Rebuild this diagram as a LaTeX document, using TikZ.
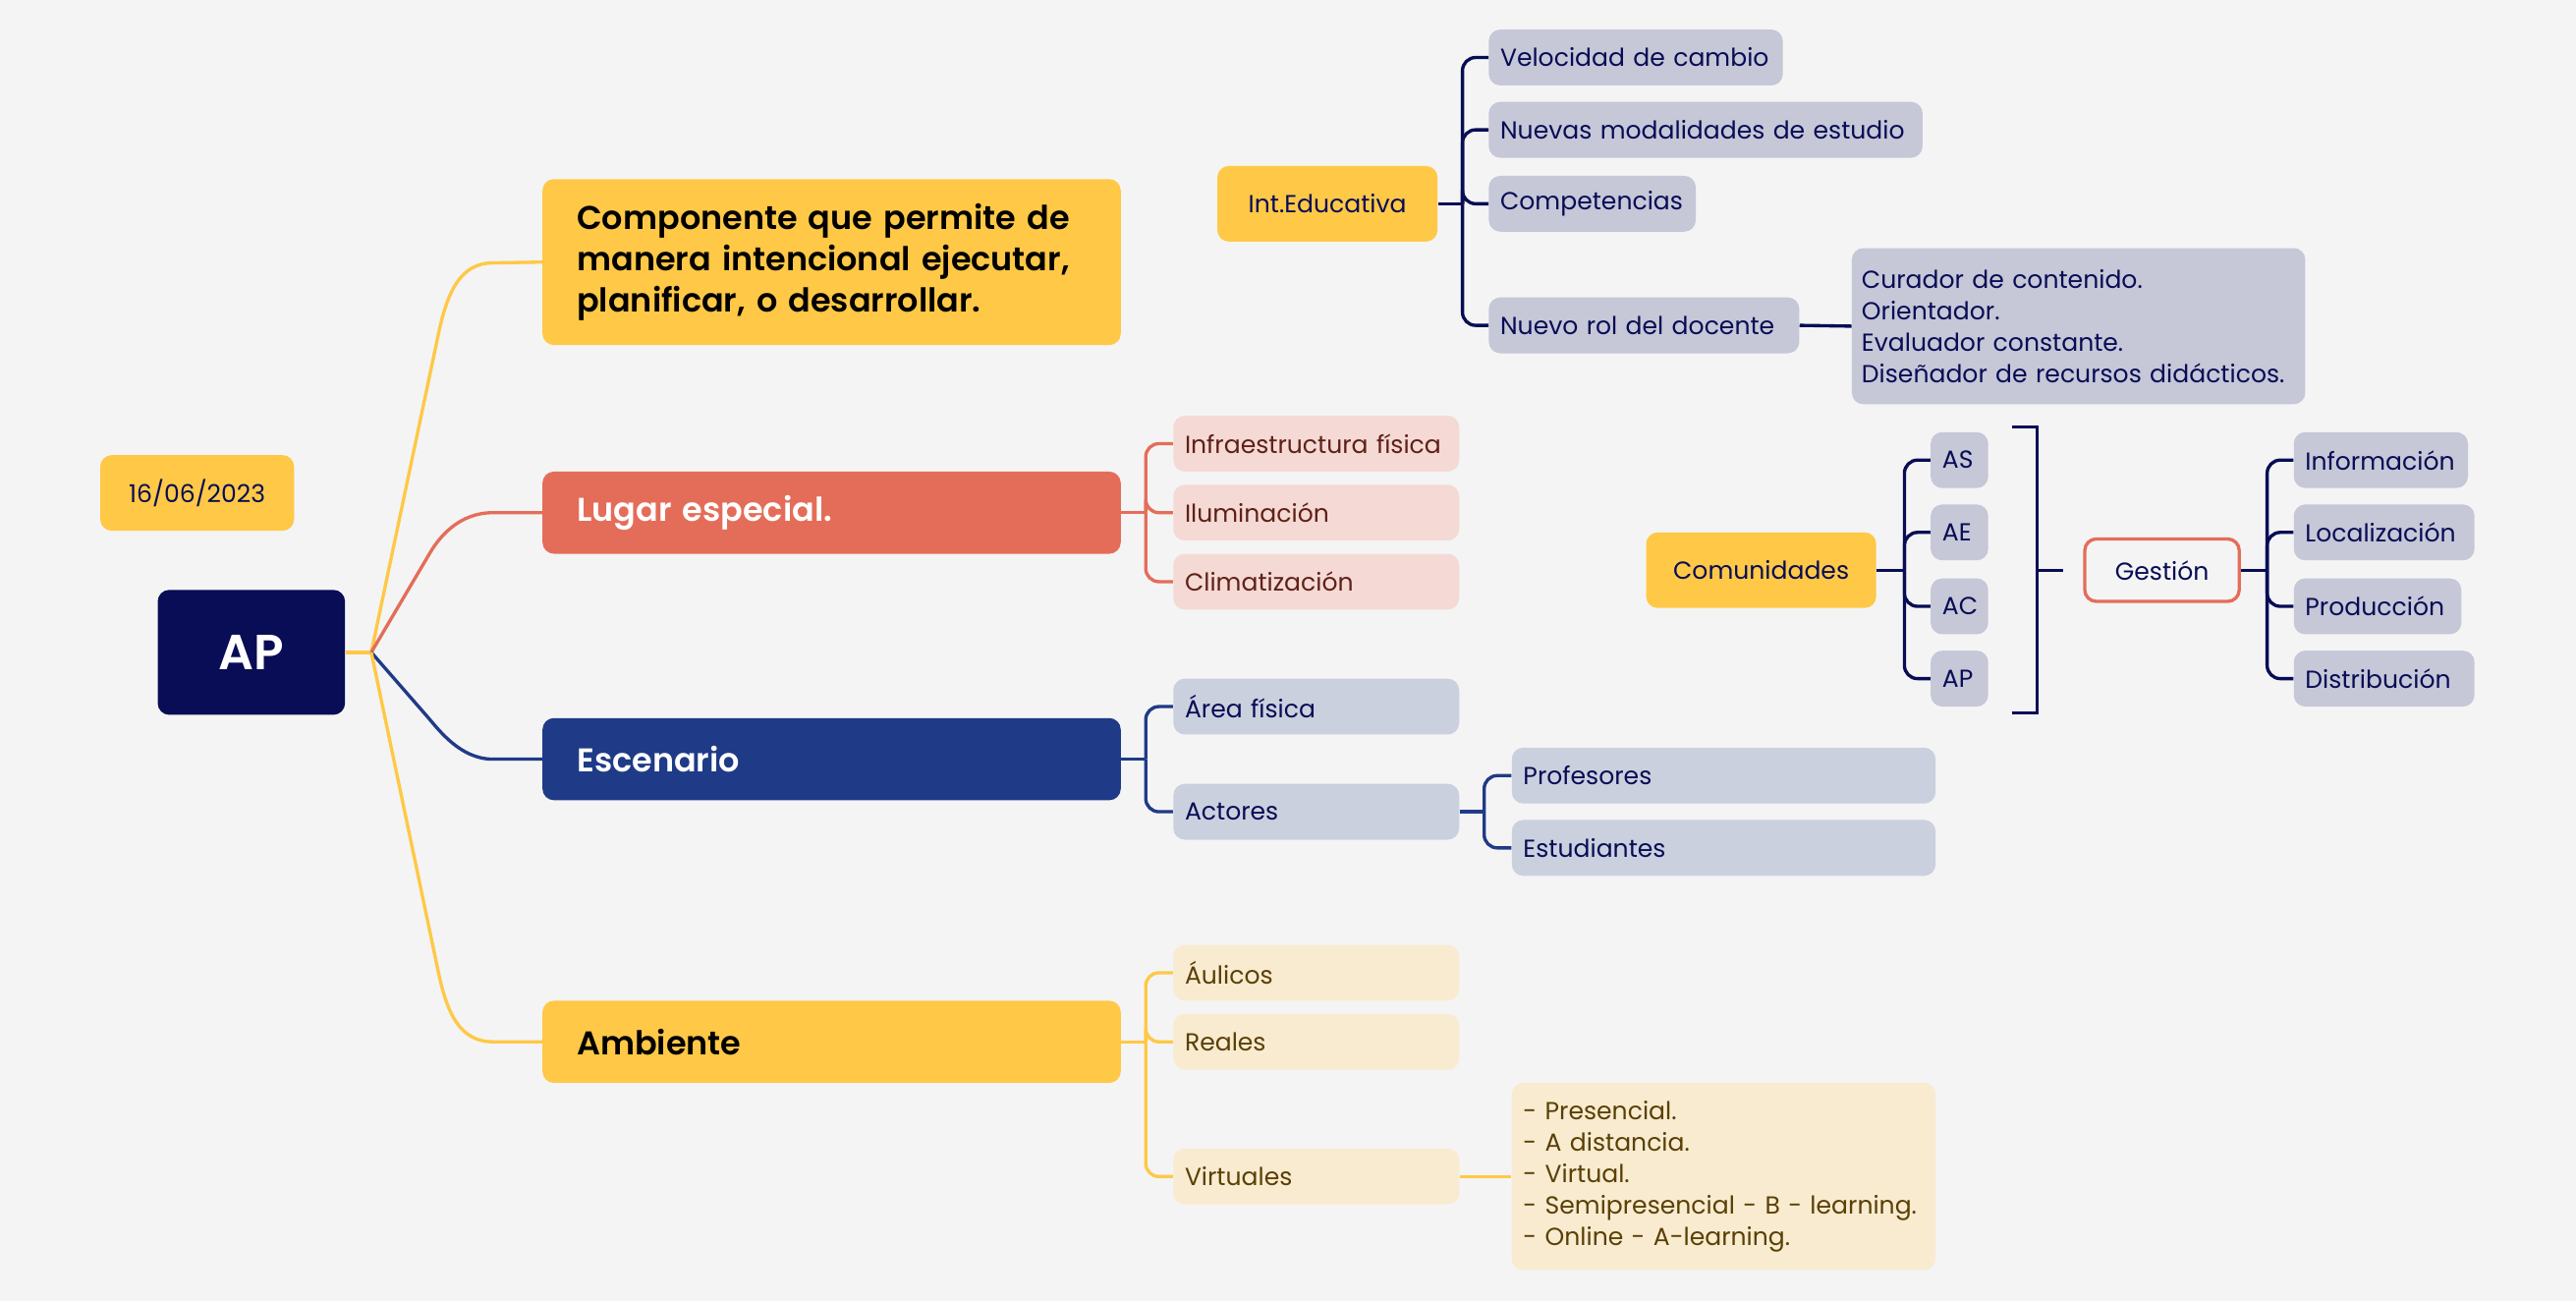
\documentclass[tikz,border=0pt]{standalone}
\usepackage{fontspec}
\setmainfont{Poppins}[BoldFont={Poppins SemiBold}]
\usetikzlibrary{calc}

\definecolor{bgc}{HTML}{F4F4F4}
\definecolor{navy}{HTML}{080D55}
\definecolor{sun}{HTML}{FFC846}
\definecolor{coral}{HTML}{E46D59}
\definecolor{royal}{HTML}{1F3A87}
\definecolor{pinkbg}{HTML}{F5D9D4}
\definecolor{bluebg}{HTML}{CBD0DE}
\definecolor{lilac}{HTML}{C6C7D7}
\definecolor{cream}{HTML}{F8EBD0}
\definecolor{maroon}{HTML}{5E2118}
\definecolor{brownt}{HTML}{5A4005}

\tikzset{
  box/.style={rounded corners=7pt, anchor=west, inner xsep=7pt, inner ysep=0pt, align=left},
  leaf/.style={box, minimum height=34pt, font=\fontsize{15}{19}\selectfont},
  mainb/.style={box, minimum height=50pt, inner xsep=21pt, text width=310pt,
    font=\fontsize{20}{25}\selectfont\bfseries},
  lk/.style={line width=2pt, rounded corners=8pt},
}

\begin{document}
\begin{tikzpicture}[x=1pt, y=-1pt]
    % canvas
    \fill[bgc] (0,0) rectangle (1568,792);
    \useasboundingbox (0,0) rectangle (1568,792);

    % root and date
    \node[box, anchor=center, fill=navy, text=white, minimum width=114pt, minimum height=76pt,
      font=\fontsize{30}{36}\selectfont\bfseries] (root) at (153,397) {AP};
    \node[box, anchor=center, fill=sun, text=navy, minimum width=118pt, minimum height=46pt,
      font=\fontsize{15}{19}\selectfont] (date) at (120,300) {16/06/2023};

    % main branches
    \node[mainb, fill=sun, text=black, minimum height=101pt] (comp) at (330,159.5)
      {Componente que permite de\\manera intencional ejecutar,\\planificar, o desarrollar.};
    \node[mainb, fill=coral, text=white] (lug) at (330,312) {Lugar especial.};
    \node[mainb, fill=royal, text=white] (esc) at (330,462) {Escenario};
    \node[mainb, fill=sun, text=black] (amb) at (330,634) {Ambiente};

    % root links
    \coordinate (J) at (226,397);
    \draw[lk, sun] (root.east) -- (J);
    \draw[line width=2pt, sun] (J) -- (266.5,205) .. controls (272,178) and (280,160) .. (300,160) -- (comp.west);
    \draw[line width=2pt, coral] (J) -- (262,336) .. controls (268,326) and (280,312) .. (300,312) -- (lug.west);
    \draw[line width=2pt, royal] (J) -- (260,436) .. controls (267,444) and (280,462) .. (300,462) -- (esc.west);
    \draw[line width=2pt, sun] (J) -- (266.5,590) .. controls (272,617) and (280,634) .. (300,634) -- (amb.west);

    % Lugar especial
    \node[leaf, fill=pinkbg, text=maroon, text width=160pt] (infra) at (714,270) {Infraestructura física};
    \node[leaf, fill=pinkbg, text=maroon, text width=160pt] (ilum) at (714,312) {Iluminación};
    \node[leaf, fill=pinkbg, text=maroon, text width=160pt] (clim) at (714,354) {Climatización};
    \coordinate (lugJ) at ($(lug.east)+(15,0)$);
    \draw[lk, coral] (lug.east) -- (lugJ);
    \foreach \c in {infra, ilum, clim} \draw[lk, coral] (lugJ) |- (\c.west);

    % Escenario
    \node[leaf, fill=bluebg, text=navy, text width=160pt] (area) at (714,430) {Área física};
    \node[leaf, fill=bluebg, text=navy, text width=160pt] (act) at (714,494) {Actores};
    \node[leaf, fill=bluebg, text=navy, text width=244pt] (prof) at (920,472) {Profesores};
    \node[leaf, fill=bluebg, text=navy, text width=244pt] (estu) at (920,516) {Estudiantes};
    \coordinate (escJ) at ($(esc.east)+(15,0)$);
    \draw[lk, royal] (esc.east) -- (escJ);
    \foreach \c in {area, act} \draw[lk, royal] (escJ) |- (\c.west);
    \coordinate (actJ) at ($(act.east)+(15,0)$);
    \draw[lk, royal] (act.east) -- (actJ);
    \foreach \c in {prof, estu} \draw[lk, royal] (actJ) |- (\c.west);

    % Ambiente
    \node[leaf, fill=cream, text=brownt, text width=160pt] (aul) at (714,592) {Áulicos};
    \node[leaf, fill=cream, text=brownt, text width=160pt] (real) at (714,634) {Reales};
    \node[leaf, fill=cream, text=brownt, text width=160pt] (virt) at (714,716) {Virtuales};
    \node[leaf, fill=cream, text=brownt, text width=244pt, minimum height=114pt] (modos) at (920,716)
      {- Presencial.\\- A distancia.\\- Virtual.\\- Semipresencial - B - learning.\\- Online - A-learning.};
    \coordinate (ambJ) at ($(amb.east)+(15,0)$);
    \draw[lk, sun] (amb.east) -- (ambJ);
    \foreach \c in {aul, real, virt} \draw[lk, sun] (ambJ) |- (\c.west);
    \draw[lk, sun] (virt.east) -- (modos.west);

    % Int.Educativa
    \node[box, anchor=center, fill=sun, text=navy, minimum width=134pt, minimum height=46pt,
      font=\fontsize{15}{19}\selectfont] (inted) at (808,124) {Int.Educativa};
    \node[leaf, fill=lilac, text=navy, text width=165pt] (velo) at (906,35) {Velocidad de cambio};
    \node[leaf, fill=lilac, text=navy, text width=250pt] (nuev) at (906,79) {Nuevas modalidades de estudio};
    \node[leaf, fill=lilac, text=navy, text width=112pt] (compe) at (906,124) {Competencias};
    \node[leaf, fill=lilac, text=navy, text width=175pt] (rol) at (906,198) {Nuevo rol del docente};
    \node[leaf, fill=lilac, text=navy, inner xsep=6pt, text width=264pt, minimum height=95pt] (roles) at (1127,198.5)
      {Curador de contenido.\\Orientador.\\Evaluador constante.\\Diseñador de recursos didácticos.};
    \coordinate (intJ) at ($(inted.east)+(15,0)$);
    \draw[lk, navy] (inted.east) -- (intJ);
    \foreach \c in {velo, nuev, compe, rol} \draw[lk, navy] (intJ) |- (\c.west);
    \draw[lk, navy] (rol.east) -- (roles.west);

    % Comunidades
    \node[box, anchor=center, fill=sun, text=navy, minimum width=140pt, minimum height=46pt,
      font=\fontsize{15}{19}\selectfont] (comu) at (1072,347) {Comunidades};
    \node[leaf, fill=lilac, text=navy, text width=21pt] (as) at (1175,280) {AS};
    \node[leaf, fill=lilac, text=navy, text width=21pt] (ae) at (1175,324) {AE};
    \node[leaf, fill=lilac, text=navy, text width=21pt] (ac) at (1175,369) {AC};
    \node[leaf, fill=lilac, text=navy, text width=21pt] (ap) at (1175,413) {AP};
    \coordinate (comJ) at ($(comu.east)+(17,0)$);
    \draw[lk, navy] (comu.east) -- (comJ);
    \foreach \c in {as, ae, ac, ap} \draw[lk, navy] (comJ) |- (\c.west);

    % bracket and Gestión
    \coordinate (brT) at (1225,260);
    \coordinate (brB) at (1225,434);
    \coordinate (brM) at (1240,347);
    \draw[line width=2pt, navy] (brT) -- (1240,260) -- (1240,434) -- (brB);
    \node[box, anchor=center, draw=coral, line width=2pt, fill=bgc, text=navy, minimum width=94pt,
      minimum height=38pt, font=\fontsize{15}{19}\selectfont] (gest) at (1316,347) {Gestión};
    \draw[line width=2pt, navy] (brM) -- ++(16,0);
    \node[leaf, fill=lilac, text=navy, text width=92pt] (info) at (1396,280) {Información};
    \node[leaf, fill=lilac, text=navy, text width=96pt] (loca) at (1396,324) {Localización};
    \node[leaf, fill=lilac, text=navy, text width=88pt] (prod) at (1396,369) {Producción};
    \node[leaf, fill=lilac, text=navy, text width=96pt] (dist) at (1396,413) {Distribución};
    \coordinate (gesJ) at ($(gest.east)+(16,0)$);
    \draw[lk, navy] (gest.east) -- (gesJ);
    \foreach \c in {info, loca, prod, dist} \draw[lk, navy] (gesJ) |- (\c.west);
\end{tikzpicture}
\end{document}
